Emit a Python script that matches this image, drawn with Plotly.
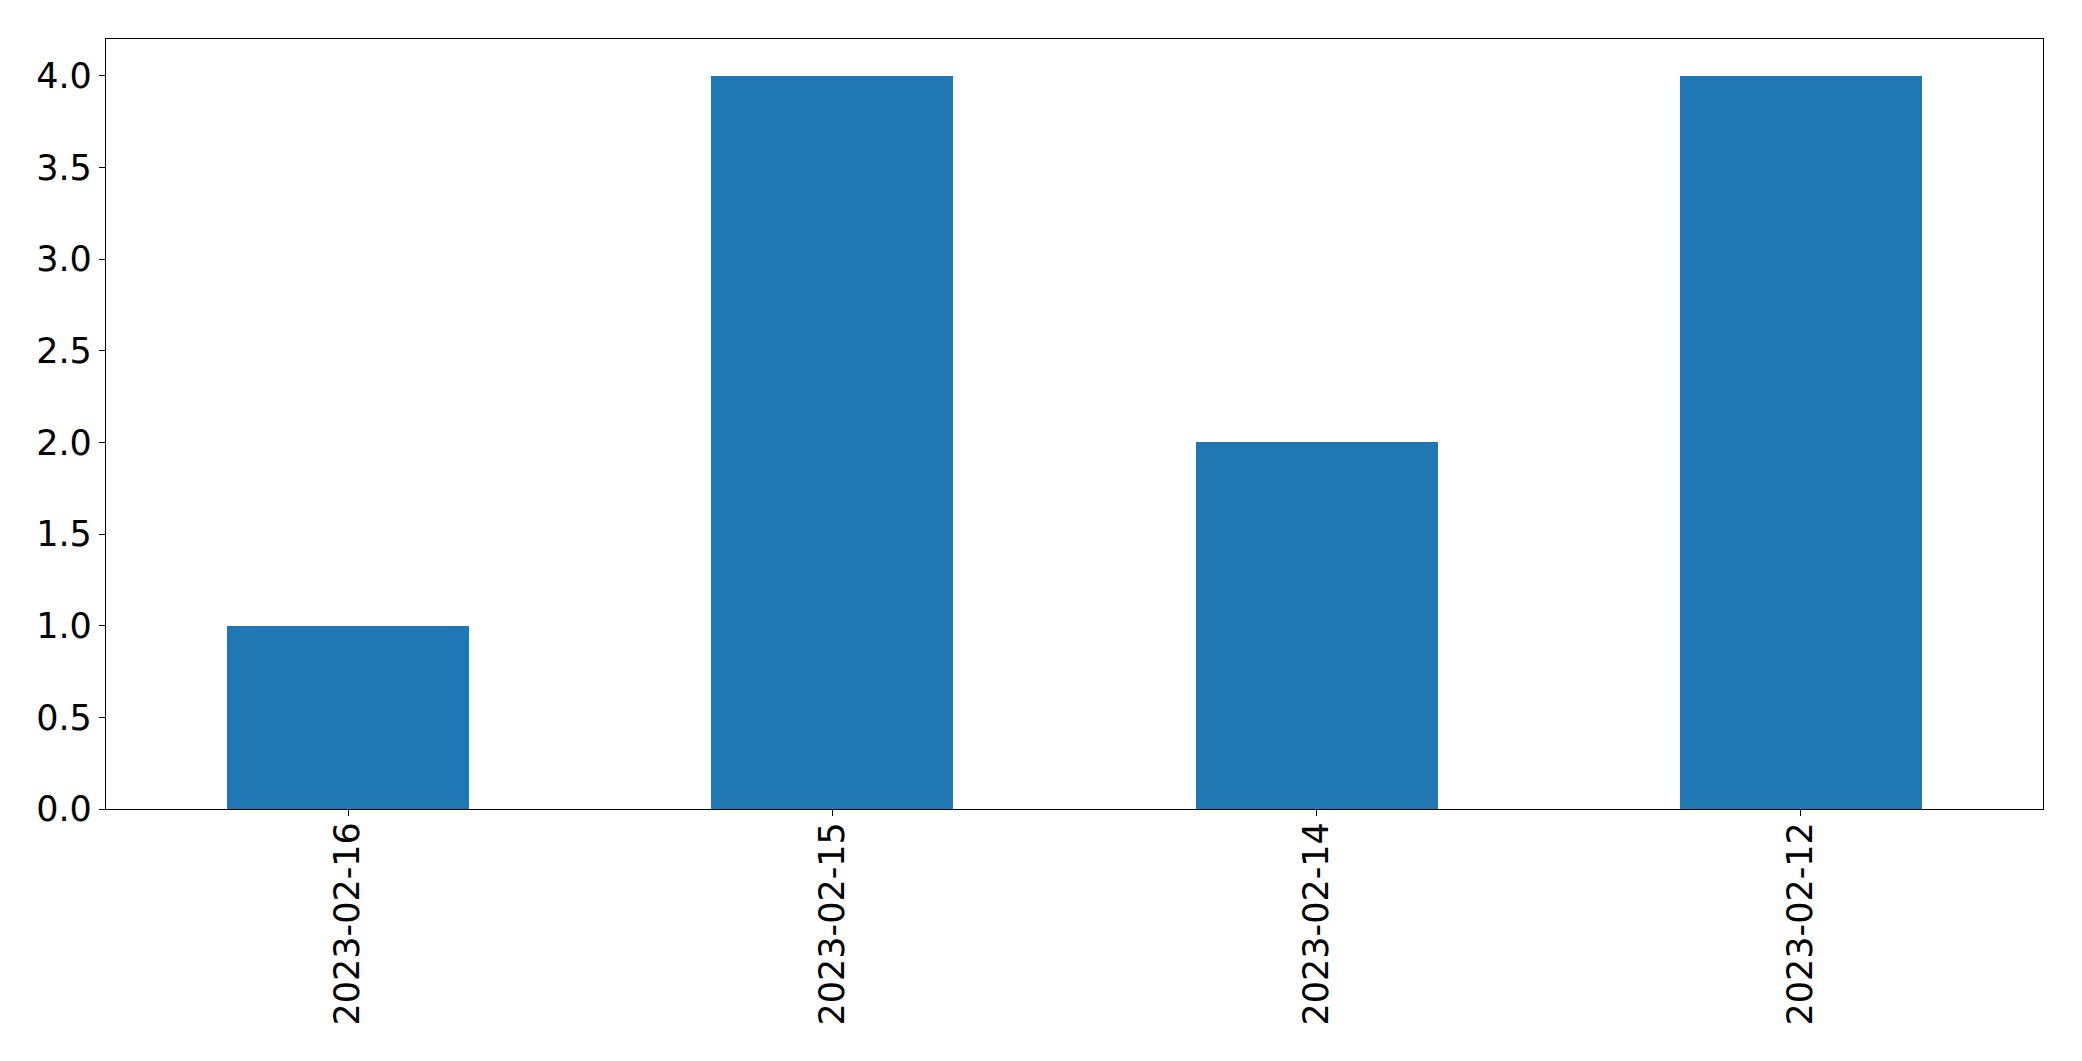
import plotly.graph_objects as go

dates = ["2023-02-16", "2023-02-15", "2023-02-14", "2023-02-12"]
counts = [1, 4, 2, 4]
y_ticks = [0.0, 0.5, 1.0, 1.5, 2.0, 2.5, 3.0, 3.5, 4.0]

fig = go.Figure(go.Bar(x=dates, y=counts, marker_color="#1f77b4",
                       marker_line_width=0, width=0.5))

# page body has an 8px margin; compensate so the plot frame lands at the same pixels
fig.update_layout(
    width=2082, height=1061,
    margin=dict(l=98, r=47, t=31, b=260, pad=0),
    plot_bgcolor="white", paper_bgcolor="white",
    font=dict(family="DejaVu Sans", size=35, color="black"),
    showlegend=False, bargap=0,
)
fig.update_xaxes(
    type="category", range=[-0.5, 3.5], tickangle=-90,
    showline=True, mirror=True, linecolor="black", linewidth=1.3,
    ticks="outside", ticklen=6, tickwidth=1.3, tickcolor="black",
    showgrid=False, zeroline=False, ticklabelstandoff=-8,
)
fig.update_yaxes(
    range=[0, 4.2], tickvals=y_ticks, ticktext=[f"{v:.1f}" for v in y_ticks],
    showline=True, mirror=True, linecolor="black", linewidth=1.3,
    ticks="outside", ticklen=6, tickwidth=1.3, tickcolor="black",
    showgrid=False, zeroline=False,
)

fig.write_html("out.html")
